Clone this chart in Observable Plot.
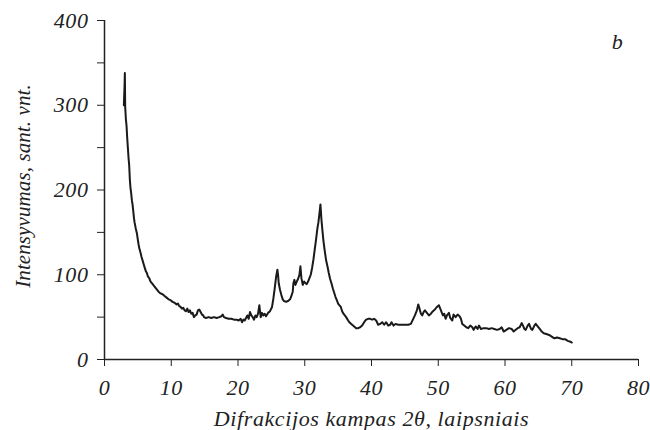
<!DOCTYPE html>
<html>
<head>
<meta charset="utf-8">
<script src="https://cdn.jsdelivr.net/npm/d3@7"></script>
<script src="https://cdn.jsdelivr.net/npm/@observablehq/plot@0.6"></script>
<style>
  html, body { margin: 0; padding: 0; background: #fff; }
  #chart { width: 650px; height: 430px; }
  #chart svg, #chart svg text {
    font-family: "Liberation Serif", "Times New Roman", Times, serif !important;
    font-style: italic;
  }
  #chart svg text { letter-spacing: 0.6px; }
</style>
</head>
<body>
<div id="chart"></div>
<script>
const angle = [2.9,3.0,3.05,3.1,3.2,3.3,3.4,3.5,3.6,3.7,3.8,3.9,4.0,4.1,4.2,4.3,4.4,4.5,4.6,4.7,4.85,5.0,5.1,5.25,5.4,5.55,5.7,5.85,6.0,6.2,6.35,6.5,6.7,6.9,7.1,7.3,7.5,7.8,8.1,8.4,8.7,9.0,9.3,9.6,9.9,10.2,10.5,10.8,11.0,11.2,11.4,11.6,11.8,12.0,12.2,12.4,12.6,12.8,13.0,13.2,13.4,13.6,13.8,14.0,14.2,14.4,14.6,14.8,14.9,15.2,15.6,16.0,16.4,16.8,17.2,17.5,17.7,17.9,18.2,18.6,19.0,19.4,19.8,20.1,20.4,20.6,20.8,21.0,21.2,21.4,21.6,21.8,22.0,22.2,22.4,22.6,22.8,23.0,23.2,23.4,23.6,23.8,24.0,24.2,24.5,24.8,25.1,25.3,25.5,25.7,25.9,26.0,26.1,26.3,26.5,26.7,26.9,27.2,27.5,27.8,28.0,28.2,28.3,28.45,28.6,28.8,29.0,29.2,29.35,29.5,29.7,29.9,30.1,30.3,30.5,30.7,30.9,31.1,31.3,31.5,31.7,31.9,32.05,32.2,32.35,32.5,32.65,32.8,33.0,33.2,33.4,33.6,33.8,34.0,34.2,34.4,34.6,34.8,35.0,35.2,35.4,35.6,35.8,36.0,36.2,36.5,36.8,37.1,37.4,37.7,38.0,38.3,38.6,38.9,39.2,39.5,39.8,40.1,40.4,40.7,41.0,41.3,41.6,41.9,42.2,42.5,42.8,43.0,43.3,43.6,44.0,44.5,45.0,45.5,45.9,46.2,46.5,46.8,47.0,47.2,47.4,47.6,47.8,48.0,48.3,48.6,48.9,49.2,49.5,49.8,50.1,50.3,50.5,50.7,50.9,51.1,51.3,51.6,51.8,52.1,52.3,52.6,52.9,53.2,53.4,53.6,53.9,54.2,54.5,54.8,55.1,55.3,55.6,55.9,56.1,56.4,56.8,57.2,57.6,58.0,58.4,58.8,59.2,59.5,59.8,60.2,60.6,61.0,61.3,61.6,61.9,62.2,62.5,62.7,62.9,63.1,63.4,63.6,63.9,64.1,64.4,64.6,64.9,65.2,65.5,65.8,66.2,66.6,67.0,67.4,67.8,68.2,68.6,69.0,69.4,69.8,70.0];
const intensity = [300,322,338,298,284,276,262,250,238,229,212,202,196,188,183,176,168,162,158,154,149,141,136,130,126,121,117,113,109,104,102,98,96,92,90,88,86,83,80,78,77,75,73,71,70,68,67,65,66,63,62,60,61,58,57,60,56,58,54,55,50,52,53,58,59,56,53,52,50,49,50,49,50,49,50,51,53,50,49,48,48,47,47,46,48,44,47,46,49,52,48,56,52,50,47,52,50,54,64,50,55,52,54,51,55,57,62,72,84,97,106,100,90,82,76,71,69,68,69,71,75,80,90,94,88,92,95,100,110,96,88,92,90,89,92,96,100,108,118,130,142,155,162,172,183,165,152,140,128,117,110,102,95,90,84,79,74,70,66,64,62,57,54,52,50,46,43,41,39,37,37,38,40,44,47,48,48,47,48,46,41,42,44,41,44,40,41,44,40,42,41,41,41,41,42,47,52,58,65,60,54,52,56,58,55,52,54,57,59,62,64,60,56,52,54,48,52,55,49,46,53,50,53,51,48,42,40,38,37,40,38,35,39,36,40,36,37,37,36,37,36,35,36,38,33,35,37,36,33,35,37,38,43,40,36,35,40,42,36,35,40,42,39,36,33,31,30,29,27,25,26,25,24,24,22,21,20];

const xTicks = [0, 10, 20, 30, 40, 50, 60, 70, 80];
const yTicks = [0, 100, 200, 300, 400];
const yMinorTicks = [50, 150, 250, 350];
const xTitle = "Difrakcijos kampas 2θ, laipsniais";
const yTitle = "Intensyvumas, sant. vnt.";
const panelLabel = "b";

const data = angle.map((a, i) => ({angle: a, intensity: intensity[i]}));

const font = 22;
const chart = Plot.plot({
  width: 650,
  height: 430,
  marginLeft: 104,
  marginRight: 12,
  marginTop: 20,
  marginBottom: 71,
  x: {domain: [0, 80]},
  y: {domain: [0, 400]},
  style: {
    fontSize: font + "px",
    color: "#222",
    background: "#fff"
  },
  marks: [
    Plot.axisX({ticks: xTicks, tickSize: 7, tickPadding: 13, label: null, fontSize: font, tickFormat: d => d}),
    Plot.axisY({ticks: yTicks, tickSize: 7, tickPadding: 9, label: null, fontSize: font, tickFormat: d => d}),
    Plot.axisY({ticks: yMinorTicks, tickSize: 7, label: null, tickFormat: () => ""}),
    Plot.ruleY([0], {stroke: "#222", strokeWidth: 1.5}),
    Plot.ruleX([0], {stroke: "#222", strokeWidth: 1.5}),
    Plot.line(data, {x: "angle", y: "intensity", stroke: "#1a1a1a", strokeWidth: 2, strokeLinejoin: "round"}),
    Plot.text([xTitle], {frameAnchor: "bottom", lineAnchor: "middle", textAnchor: "middle", dy: 59, fontSize: font, fill: "#222"}),
    Plot.text([yTitle], {frameAnchor: "left", lineAnchor: "middle", textAnchor: "middle", rotate: -90, dx: -81, dy: -4, fontSize: 21, fill: "#222"}),
    Plot.text([panelLabel], {frameAnchor: "top-right", lineAnchor: "middle", textAnchor: "middle", dx: -21, dy: 21, fontSize: font, fill: "#222"})
  ]
});
d3.select(chart).selectAll("text").filter(function() { return this.textContent === yTitle; }).style("letter-spacing", "0.1px");
document.getElementById("chart").appendChild(chart);
</script>
</body>
</html>
